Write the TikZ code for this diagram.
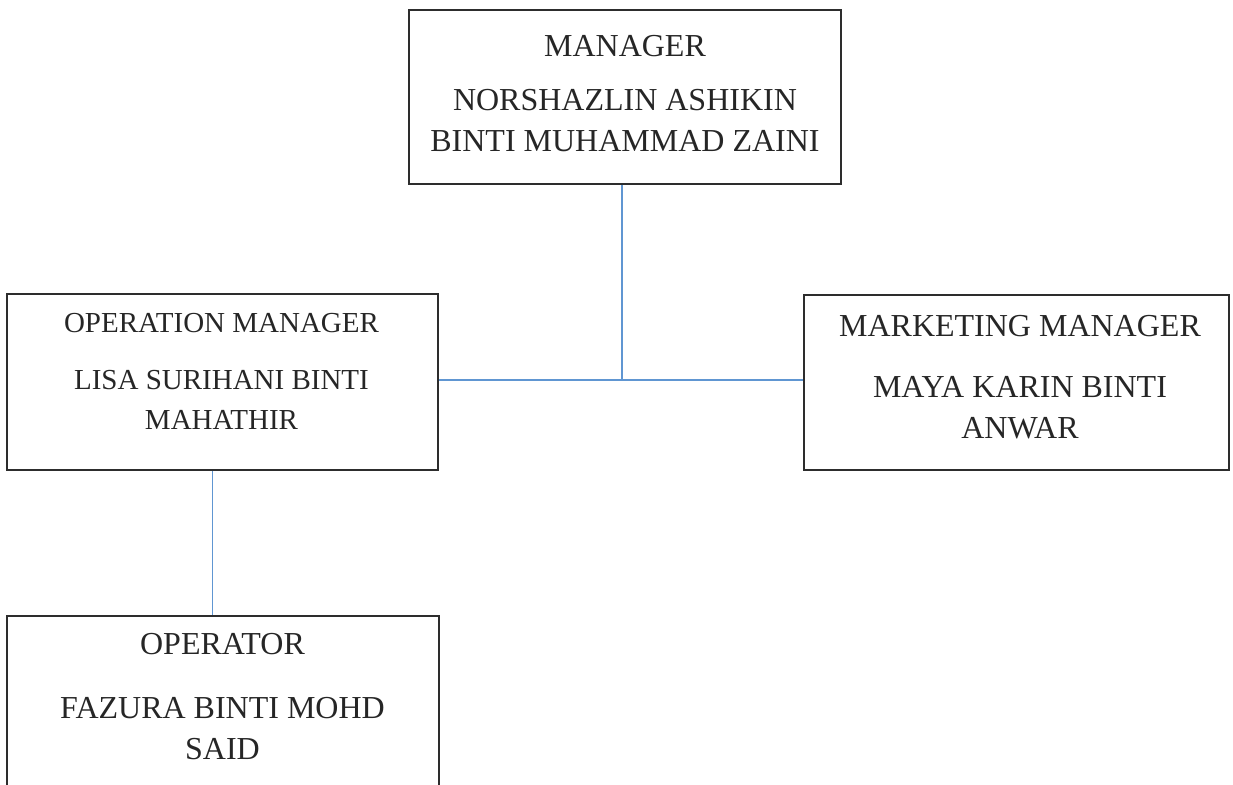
\documentclass[tikz,border=0pt]{standalone}
\usepackage{fontspec}
\setmainfont{Liberation Serif}
\usepackage{xcolor}
\definecolor{orgblue}{RGB}{96,150,210}
\definecolor{orggrey}{RGB}{45,45,45}
\usetikzlibrary{positioning}

\begin{document}
\begin{tikzpicture}[
    % GLOBAL CFG
    x=0.5pt, y=-0.5pt,
    % Styles
    post/.style={% For the boxes of the chart
        rectangle,
        draw=orggrey,
        line width=0.8pt,
        inner sep=0pt,
        },
    who/.style={% For the text in a box
        align=center,
        inner sep=0pt,
        text=black!85,
        font=\fontsize{16}{20.5}\selectfont,
        },
    link/.style={% Blue connectors
        draw=orgblue,
        line width=0.6pt,
        },
    ]

    \clip (0,0) rectangle (1233,785);

    % Draw the boxes
    \node [post, minimum width=216pt, minimum height=87pt] (mgr) at (625,97) {};
    \node [post, minimum width=215.5pt, minimum height=88pt] (opmgr) at (222.5,382) {};
    \node [post, minimum width=212.5pt, minimum height=87.5pt] (mktmgr) at (1016.5,382.5) {};
    \node [post, minimum width=216pt, minimum height=100pt] (oper) at (223,716) {};

    % Draw the texts
    \node [who] (mgrtxt) at (625,93.5) {MANAGER\\[6.5pt]NORSHAZLIN ASHIKIN\\BINTI MUHAMMAD ZAINI};
    \node [who, font=\fontsize{14.5}{20}\selectfont] (opmgrtxt) at (221.5,371.5) {OPERATION MANAGER\\[8.5pt]LISA SURIHANI BINTI\\MAHATHIR};
    \node [who] (mktmgrtxt) at (1020,377) {MARKETING MANAGER\\[10pt]MAYA KARIN BINTI\\ANWAR};
    \node [who] (opertxt) at (222.5,696.5) {OPERATOR\\[11.5pt]FAZURA BINTI MOHD\\SAID};

    % Connect all
    \coordinate (tee) at ([yshift=1pt]mgr.south |- opmgr.east);
    \draw [link] ([xshift=-1.5pt]mgr.south) -- ([xshift=-1.5pt]tee);
    \draw [link] ([yshift=1pt]opmgr.east) -- ([yshift=1pt]opmgr.east -| mktmgr.west);
    \draw [link] ([xshift=-5pt]opmgr.south) -- ([xshift=-5pt]opmgr.south |- oper.north);

\end{tikzpicture}
\end{document}
